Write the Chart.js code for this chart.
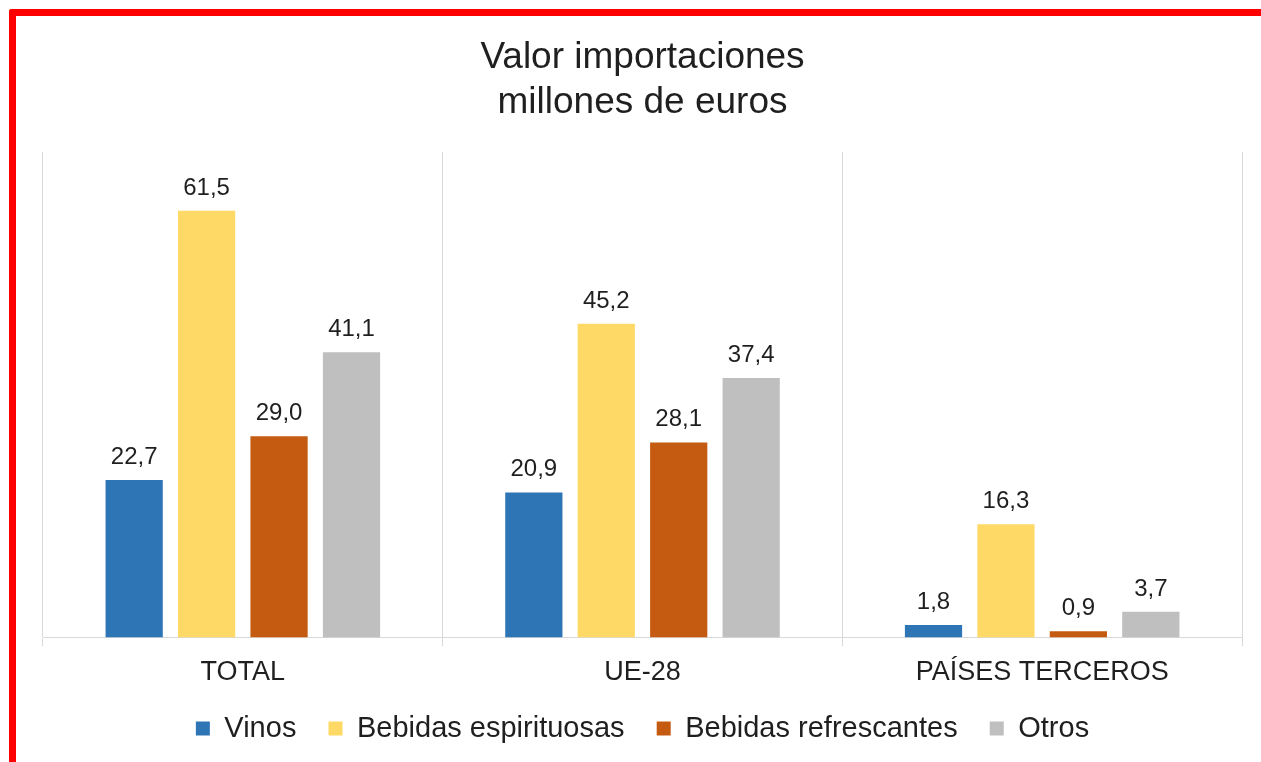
<!DOCTYPE html>
<html lang="es">
<head>
<meta charset="utf-8">
<title>Valor importaciones</title>
<script src="https://cdn.jsdelivr.net/npm/chart.js@4.4.1/dist/chart.umd.min.js"></script>
<style>
  html, body { margin: 0; padding: 0; background: #ffffff; overflow: hidden; }
  body { width: 1261px; height: 762px; position: relative; }
  .frame {
    position: absolute; left: 9px; top: 9px; right: -20px; bottom: -20px;
    border-left: 7px solid #ff0000; border-top: 7px solid #ff0000;
    border-top-left-radius: 3px;
  }
  .wrap { position: absolute; left: 16px; top: 16px; width: 1245px; height: 746px; }
</style>
</head>
<body>
<div class="frame"></div>
<div class="wrap"><canvas id="chart"></canvas></div>
<script>
// Categories and series (millones de euros)
const categories = ['TOTAL', 'UE-28', 'PAÍSES TERCEROS'];
const vinos = [22.7, 20.9, 1.8];
const espirituosas = [61.5, 45.2, 16.3];
const refrescantes = [29.0, 28.1, 0.9];
const otros = [41.1, 37.4, 3.7];
const seriesNames = ['Vinos', 'Bebidas espirituosas', 'Bebidas refrescantes', 'Otros'];

const FONT = '"Liberation Sans", Arial, Helvetica, sans-serif';
const TEXT = '#1f1f1f';

function fmt(v) { return v.toFixed(1).replace('.', ','); }

// Value labels printed above every bar
const valueLabels = {
  id: 'valueLabels',
  afterDatasetsDraw(chart) {
    const ctx = chart.ctx;
    ctx.save();
    ctx.font = '24px ' + FONT;
    ctx.fillStyle = TEXT;
    ctx.textAlign = 'center';
    ctx.textBaseline = 'alphabetic';
    chart.data.datasets.forEach((ds, i) => {
      const meta = chart.getDatasetMeta(i);
      meta.data.forEach((bar, j) => {
        ctx.fillText(fmt(ds.data[j]), bar.x, bar.y - 16);
      });
    });
    ctx.restore();
  }
};

const common = { categoryPercentage: 0.725, barPercentage: 0.79, borderWidth: 0 };

new Chart(document.getElementById('chart'), {
  type: 'bar',
  data: {
    labels: categories,
    datasets: [
      { label: seriesNames[0], data: vinos, backgroundColor: '#2e75b6', ...common },
      { label: seriesNames[1], data: espirituosas, backgroundColor: '#ffd966', ...common },
      { label: seriesNames[2], data: refrescantes, backgroundColor: '#c55a11', ...common },
      { label: seriesNames[3], data: otros, backgroundColor: '#bfbfbf', ...common }
    ]
  },
  options: {
    responsive: true,
    maintainAspectRatio: false,
    animation: false,
    layout: { padding: { left: 27, right: 19, top: 0, bottom: 9 } },
    plugins: {
      title: {
        display: true,
        text: ['Valor importaciones', 'millones de euros'],
        color: TEXT,
        font: { family: FONT, size: 37, weight: 'normal', lineHeight: 1.2 },
        padding: { top: 20, bottom: 27 }
      },
      legend: {
        position: 'bottom',
        labels: {
          color: TEXT,
          font: { family: FONT, size: 29 },
          boxWidth: 14,
          boxHeight: 14,
          padding: 16,
          // trailing spaces widen the gap between neighbouring entries
          generateLabels(chart) {
            const items = Chart.defaults.plugins.legend.labels.generateLabels(chart);
            items.forEach((it, k) => { if (k < items.length - 1) it.text = it.text + '  '; });
            return items;
          }
        }
      },
      tooltip: { enabled: false }
    },
    scales: {
      x: {
        grid: { display: true, offset: true, color: '#d9d9d9', lineWidth: 1, tickLength: 9, drawOnChartArea: true },
        border: { display: true, color: '#d9d9d9', width: 1 },
        ticks: { color: TEXT, font: { family: FONT, size: 27, lineHeight: 0.8 }, padding: 15, maxRotation: 0 }
      },
      y: {
        display: false,
        min: 0,
        max: 70
      }
    }
  },
  plugins: [valueLabels]
});
</script>
</body>
</html>
